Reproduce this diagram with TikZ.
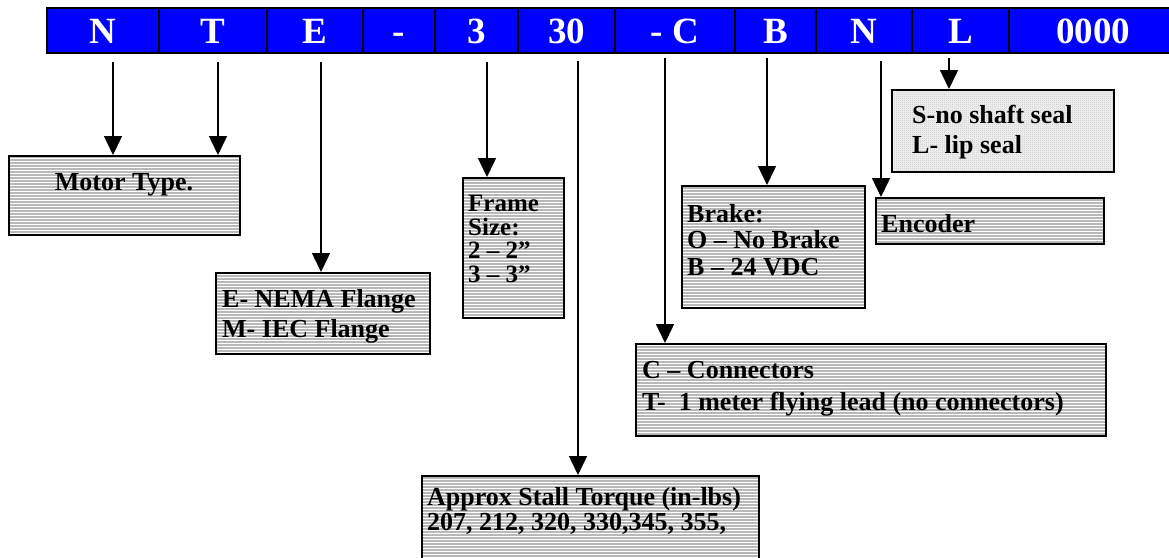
\documentclass[tikz,border=0pt]{standalone}
\usepackage{fontspec}
\setmainfont{Liberation Serif}
\usetikzlibrary{arrows.meta,patterns}
\pgfdeclarepatternformonly{hstripes}{\pgfpoint{0pt}{0pt}}{\pgfpoint{10pt}{3.3pt}}{\pgfpoint{10pt}{3.3pt}}{%
  \pgfsetlinewidth{1.1pt}%
  \pgfpathmoveto{\pgfpoint{-1pt}{0.55pt}}\pgfpathlineto{\pgfpoint{11pt}{0.55pt}}\pgfusepath{stroke}}
\pgfdeclarepatternformonly{finedots}{\pgfpoint{0pt}{0pt}}{\pgfpoint{2pt}{2pt}}{\pgfpoint{2pt}{2pt}}{%
  \pgfpathrectangle{\pgfpoint{0pt}{0pt}}{\pgfpoint{0.9pt}{0.9pt}}\pgfusepath{fill}}
\definecolor{barblue}{RGB}{0,0,255}
\definecolor{stripegray}{RGB}{184,184,184}
\begin{document}
\begin{tikzpicture}[x=1pt,y=-1pt,
  cell/.style={draw=black, line width=2pt, fill=barblue, text=white,
    font=\fontsize{37}{37}\selectfont\bfseries, minimum height=45pt,
    text height=26pt, text depth=0pt,
    inner sep=0pt, anchor=north west},
  stripebox/.style={draw=black, line width=1.8pt, preaction={fill=stripegray},
    pattern=hstripes, pattern color=white, anchor=north west, inner sep=0pt},
  dotbox/.style={draw=black, line width=1.8pt, preaction={fill=gray!15},
    pattern=finedots, pattern color=gray!55, anchor=north west, inner sep=0pt},
  txt/.style={anchor=base west, inner sep=0pt, align=left,
    font=\fontsize{26}{30}\selectfont\bfseries},
  conn/.style={line width=1.5pt, -{Triangle[length=19pt,width=18pt]}}]
\path[use as bounding box, clip] (0,0) rectangle (1169,557);

% top code bar
\node[cell, minimum width=112pt] (cN)  at (46,7)   {N};
\node[cell, minimum width=108pt] (cT)  at (158,7)  {T};
\node[cell, minimum width=96pt]  (cE)  at (266,7)  {E};
\node[cell, minimum width=72pt]  (cD)  at (362,7)  {-};
\node[cell, minimum width=83pt]  (c3)  at (434,7)  {3};
\node[cell, minimum width=97pt]  (c30) at (517,7)  {30};
\node[cell, minimum width=120pt] (cC)  at (614,7)  {- C};
\node[cell, minimum width=81pt]  (cB)  at (734,7)  {B};
\node[cell, minimum width=96pt]  (cN2) at (815,7)  {N};
\node[cell, minimum width=97pt]  (cL)  at (911,7)  {L};
\node[cell, minimum width=168pt] (c0)  at (1008,7) {0000};

% boxes
\node[stripebox, minimum width=231pt, minimum height=79pt]  (motor)  at (8,155)   {};
\node[stripebox, minimum width=214pt, minimum height=81pt]  (flange) at (215,272) {};
\node[stripebox, minimum width=101pt, minimum height=140pt] (frame)  at (462,177) {};
\node[stripebox, minimum width=337pt, minimum height=110pt] (torque) at (421,475) {};
\node[stripebox, minimum width=470pt, minimum height=92pt]  (conbox) at (635,343) {};
\node[stripebox, minimum width=183pt, minimum height=122pt] (brake)  at (681,185) {};
\node[stripebox, minimum width=228pt, minimum height=46pt]  (enc)    at (875,197) {};
\node[dotbox,    minimum width=222pt, minimum height=82pt]  (seal)   at (891,89)  {};

% texts (anchor = baseline of the last line)
\node[txt, anchor=base] (tmotor) at (124,190) {Motor Type.};
\node[txt, font=\fontsize{26}{30}\selectfont\bfseries] (tflange) at (222,337) {E- NEMA Flange\\M- IEC Flange};
\node[txt, font=\fontsize{25}{23.4}\selectfont\bfseries] (tframe) at (468,282) {Frame\\Size:\\2 – 2”\\3 – 3”};
\node[txt, font=\fontsize{26}{26.5}\selectfont\bfseries] (tbrake) at (687,275) {Brake:\\O – No Brake\\B – 24 VDC};
\node[txt] (tenc) at (881,232) {Encoder};
\node[txt, font=\fontsize{26}{32}\selectfont\bfseries] (tcon) at (642,410) {C – Connectors\\T-\ \ 1 meter flying lead (no connectors)};
\node[txt, font=\fontsize{26}{30}\selectfont\bfseries] (tseal) at (912,153) {S-no shaft seal\\L- lip seal};
\node[txt, font=\fontsize{26}{25}\selectfont\bfseries] (ttorque) at (427,530) {Approx Stall Torque (in-lbs)\\207, 212, 320, 330,345, 355,};

% connector start points
\coordinate (aN)  at (113,62);
\coordinate (aT)  at (218,62);
\coordinate (aE)  at (321,62);
\coordinate (a3)  at (487,62);
\coordinate (a30) at (578,61);
\coordinate (aC)  at (665,58);
\coordinate (aB)  at (767,58);
\coordinate (aN2) at (881,61);
\coordinate (aL)  at (949,58);

\draw[conn] (aN)  -- (aN  |- motor.north);
\draw[conn] (aT)  -- (aT  |- motor.north);
\draw[conn] (aE)  -- (aE  |- flange.north);
\draw[conn] (a3)  -- (a3  |- frame.north);
\draw[conn] (a30) -- (a30 |- torque.north);
\draw[conn] (aC)  -- (aC  |- conbox.north);
\draw[conn] (aB)  -- (aB  |- brake.north);
\draw[conn] (aN2) -- (aN2 |- enc.north);
\draw[conn] (aL)  -- (aL  |- seal.north);
\end{tikzpicture}
\end{document}
